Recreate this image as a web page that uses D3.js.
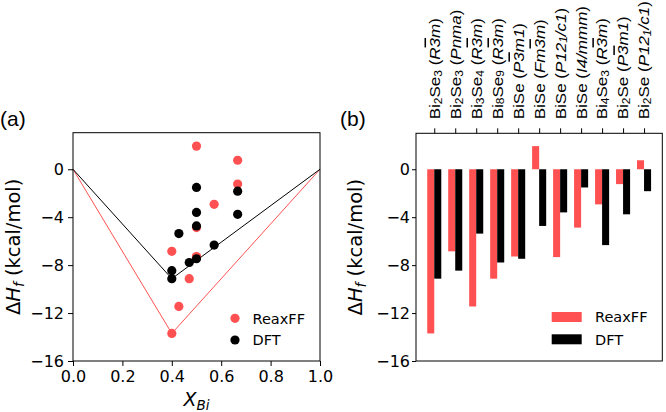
<!DOCTYPE html>
<html><head><meta charset="utf-8">
<script src="https://cdn.jsdelivr.net/npm/d3@7"></script>
<style>
body{margin:0;background:#fff;}
svg{display:block;}
</style></head>
<body><svg id="c" width="666" height="412" font-family="DejaVu Sans, sans-serif"></svg>
<script>
// ---- data ----
const formulas = ["Bi_2Se_3","Bi_2Se_3","Bi_3Se_4","Bi_8Se_9","BiSe","BiSe","BiSe","BiSe","Bi_4Se_3","Bi_2Se","Bi_2Se"];
const spaceGroups = ["R~3m","Pnma","R~3m","R~3m","P~3m1","Fm~3m","P12_1/c1","I4/mmm","R~3m","P~3m1","P12_1/c1"];
const xBi = [0.4, 0.4, 3/7, 8/17, 0.5, 0.5, 0.5, 0.5, 4/7, 2/3, 2/3];
const reaxff = [-13.7, -6.85, -11.45, -9.13, -7.28, 1.93, -7.33, -4.87, -2.93, -1.24, 0.75];
const dft = [-9.13, -8.46, -5.37, -7.78, -7.47, -4.73, -3.6, -1.52, -6.33, -3.76, -1.83];
const hullX = [0, 0.4, 1];
const hullReax = [0, -13.7, 0];
const hullDft = [0, -9.13, 0];
const yTicks = [0, -4, -8, -12, -16];
const xTicks = [0, 0.2, 0.4, 0.6, 0.8, 1.0];
const seriesNames = ["ReaxFF", "DFT"];

const RED = "#ff5151", BLACK = "#000";
const SANS = "'Liberation Sans', Arial, sans-serif";
const svg = d3.select("#c");
const fmtMinus = d => d < 0 ? "\u2212" + Math.abs(d) : String(d);

// ---- panel (a) ----
const A = {l:73, r:320, t:132.7, b:361};
const xa = d3.scaleLinear().domain([0,1]).range([A.l, A.r]);
const ya = d3.scaleLinear().domain([-16,3.05]).range([A.b, A.t]);
const ga = svg.append("g");

const line = d3.line().x(d=>xa(d[0])).y(d=>ya(d[1]));
ga.append("path").datum(hullX.map((x,i)=>[x,hullReax[i]])).attr("d",line)
  .attr("fill","none").attr("stroke",RED).attr("stroke-width",1);
ga.append("path").datum(hullX.map((x,i)=>[x,hullDft[i]])).attr("d",line)
  .attr("fill","none").attr("stroke",BLACK).attr("stroke-width",1);

ga.selectAll("circle.r").data(xBi).join("circle").attr("class","r")
  .attr("cx",(d)=>xa(d)).attr("cy",(d,i)=>ya(reaxff[i])).attr("r",4.6).attr("fill",RED);
ga.selectAll("circle.k").data(xBi).join("circle").attr("class","k")
  .attr("cx",(d)=>xa(d)).attr("cy",(d,i)=>ya(dft[i])).attr("r",4.6).attr("fill",BLACK);

ga.append("rect").attr("x",A.l).attr("y",A.t).attr("width",A.r-A.l).attr("height",A.b-A.t)
  .attr("fill","none").attr("stroke","#000").attr("stroke-width",1);

const axBa = ga.append("g").attr("transform",`translate(0,${A.b})`)
  .call(d3.axisBottom(xa).tickValues(xTicks).tickFormat(d3.format(".1f")).tickSize(5).tickPadding(5));
const axLa = ga.append("g").attr("transform",`translate(${A.l},0)`)
  .call(d3.axisLeft(ya).tickValues(yTicks).tickFormat(fmtMinus).tickSize(5).tickPadding(4));
[axBa, axLa].forEach(g=>{
  g.select(".domain").remove();
  g.attr("font-family","DejaVu Sans, sans-serif").attr("font-size",16);
  g.selectAll("text").attr("fill","#000");
});

// legend (a)
[[RED,318.3,seriesNames[0]],[BLACK,340,seriesNames[1]]].forEach(([c,y,t])=>{
  ga.append("circle").attr("cx",235).attr("cy",y).attr("r",4.6).attr("fill",c);
  ga.append("text").attr("x",252.5).attr("y",y+5.2).attr("font-size",14.5).text(t);
});

// labels (a)
ga.append("text").attr("x",0).attr("y",126).attr("font-size",21)
  .style("font-family",SANS).text("(a)");
const xl = ga.append("text").attr("x",(A.l+A.r)/2).attr("y",406).attr("text-anchor","middle").attr("font-size",19);
xl.append("tspan").attr("font-style","italic").text("X");
xl.append("tspan").attr("font-style","italic").attr("font-size",13.5).attr("dy",4).text("Bi");

function ylabel(g, x, y){
  const t = g.append("text").attr("transform",`translate(${x},${y}) rotate(-90)`)
    .attr("text-anchor","middle").attr("font-size",19.5);
  t.append("tspan").text("\u0394");
  t.append("tspan").attr("font-style","italic").text("H");
  t.append("tspan").attr("font-style","italic").attr("font-size",13.5).attr("dy",4).text("f");
  t.append("tspan").attr("dy",-4).text(" (kcal/mol)");
}
ylabel(ga, 20, (A.t+A.b)/2);

// ---- panel (b) ----
const B = {l:416, r:662.3, t:133.3, b:361};
const idx = d3.range(formulas.length);
const xb = d3.scaleLinear().domain([-0.87, 10.87]).range([B.l, B.r]);
const yb = d3.scaleLinear().domain([-16,3.0]).range([B.b, B.t]);
const gb = svg.append("g");
const w = 0.335;

gb.selectAll("rect.r").data(idx).join("rect").attr("class","r")
  .attr("x",i=>xb(i-w)).attr("width",xb(w)-xb(0))
  .attr("y",i=>yb(Math.max(0,reaxff[i]))).attr("height",i=>Math.abs(yb(reaxff[i])-yb(0)))
  .attr("fill",RED);
gb.selectAll("rect.k").data(idx).join("rect").attr("class","k")
  .attr("x",i=>xb(i)).attr("width",xb(w)-xb(0))
  .attr("y",i=>yb(Math.max(0,dft[i]))).attr("height",i=>Math.abs(yb(dft[i])-yb(0)))
  .attr("fill",BLACK);

gb.append("rect").attr("x",B.l).attr("y",B.t).attr("width",B.r-B.l).attr("height",B.b-B.t)
  .attr("fill","none").attr("stroke","#000").attr("stroke-width",1);

const axLb = gb.append("g").attr("transform",`translate(${B.l},0)`)
  .call(d3.axisLeft(yb).tickValues(yTicks).tickFormat(fmtMinus).tickSize(4).tickPadding(2));
axLb.select(".domain").remove();
axLb.attr("font-family","DejaVu Sans, sans-serif").attr("font-size",16);
axLb.selectAll("text").attr("fill","#000");

const axTb = gb.append("g").attr("transform",`translate(0,${B.t})`)
  .call(d3.axisTop(xb).tickValues(idx).tickFormat("").tickSize(5));
axTb.select(".domain").remove();

// rotated category labels
function addMarkup(t, s, opts){
  // "_" -> next char subscript; "~" -> next char overline
  let buf = "";
  const flush = () => { if(buf){ t.append("tspan").text(buf); buf=""; } };
  for(let k=0;k<s.length;k++){
    const ch = s[k];
    if(ch==="_"){
      flush();
      t.append("tspan").attr("font-size",opts.sub).attr("baseline-shift","-18%").text(s[++k]);
    } else if(ch==="~"){
      flush();
      t.append("tspan").style("text-decoration","overline").text(s[++k]);
    } else {
      buf += ch;
    }
  }
  flush();
}
idx.forEach(i=>{
  const t = gb.append("text")
    .attr("transform",`translate(${xb(i)+5.4},${B.t-14}) rotate(-90) scale(1,0.9)`)
    .style("font-family",SANS).attr("font-size",17);
  addMarkup(t, formulas[i], {sub:12});
  t.append("tspan").text(" (");
  const it = t.append("tspan").attr("font-style","italic");
  addMarkup(it, spaceGroups[i], {sub:12});
  t.append("tspan").text(")");
});

// legend (b)
[[RED,312,seriesNames[0]],[BLACK,334.3,seriesNames[1]]].forEach(([c,y,t])=>{
  gb.append("rect").attr("x",551.7).attr("y",y).attr("width",30).attr("height",10).attr("fill",c);
  gb.append("text").attr("x",595).attr("y",y+10.2).attr("font-size",14.5).text(t);
});

gb.append("text").attr("x",340).attr("y",126).attr("font-size",21)
  .style("font-family",SANS).text("(b)");
ylabel(gb, 362, (B.t+B.b)/2);
</script></body></html>
